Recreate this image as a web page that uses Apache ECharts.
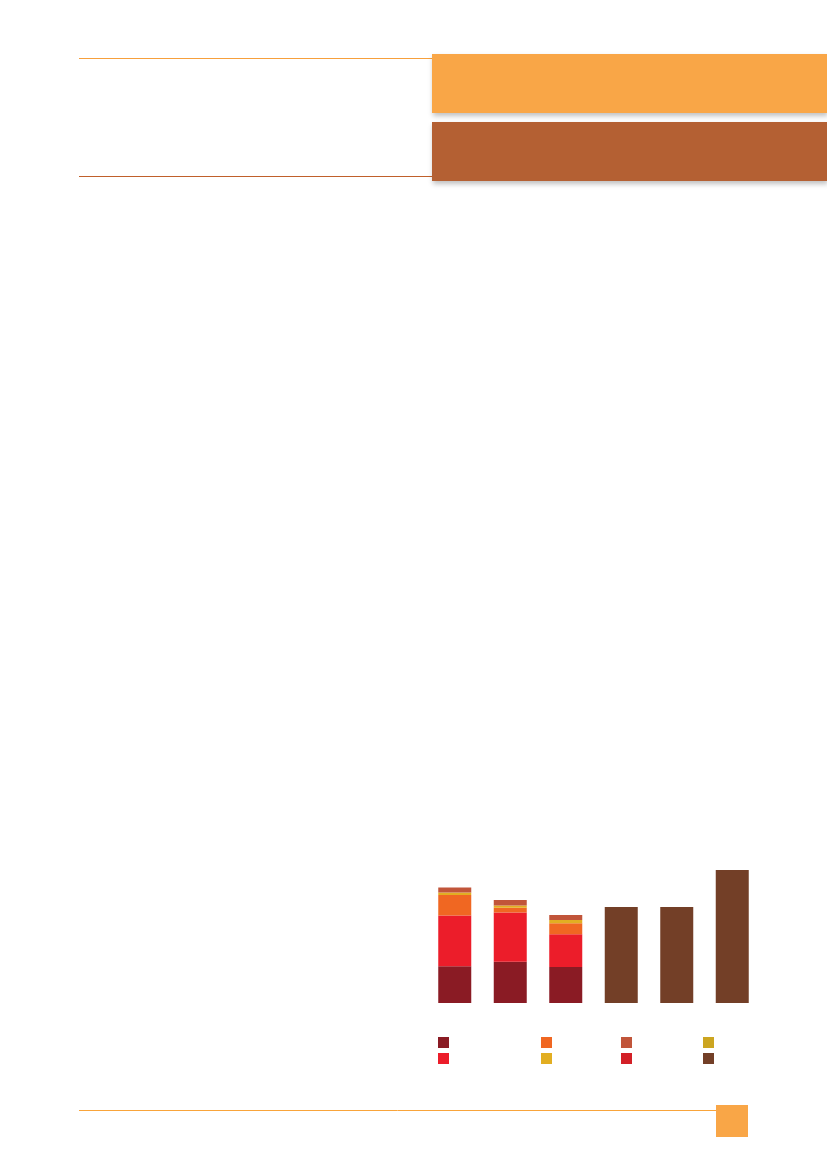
<!DOCTYPE html>
<html>
<head>
<meta charset="utf-8">
<script src="https://cdn.jsdelivr.net/npm/echarts@6/dist/echarts.min.js"></script>
<style>
    html, body { margin: 0; padding: 0; background: #fff; }
    #main { width: 827px; height: 1169px; }
</style>
</head>
<body>
<div id="main"></div>
<script>
// 数据
var categories = ['1', '2', '3', '4', '5', '6'];
var seriesNames = ['S1', 'S2', 'S3', 'S4', 'S5', 'S6', 'S7', 'S8'];
var seriesColors = ['#8a1b24', '#ec1d2a', '#f06722', '#e2ae22', '#c1553a', '#d32027', '#cca520', '#733f27'];
var s1 = [36.7, 41.3, 36, null, null, null];
var s2 = [50.7, 49.3, 32.7, null, null, null];
var s3 = [20.7, 4.7, 11, null, null, null];
var s4 = [2.3, 2.3, 3.3, null, null, null];
var s5 = [5, 5.3, 5, null, null, null];
var s6 = [null, null, null, null, null, null];
var s7 = [null, null, null, null, null, null];
var s8 = [null, null, null, 96, 96, 133];
var seriesData = [s1, s2, s3, s4, s5, s6, s7, s8];

var chart = echarts.init(document.getElementById('main'));

var series = [];
for (var i = 0; i < seriesNames.length; i++) {
    series.push({
        name: seriesNames[i],
        type: 'bar',
        stack: 'total',
        barWidth: 33,
        itemStyle: { color: seriesColors[i] },
        data: seriesData[i]
    });
}

// 图例：四列，每列两项
function makeLegend(left, names) {
    return {
        left: left,
        top: 1037,
        orient: 'vertical',
        padding: 0,
        itemWidth: 11,
        itemHeight: 11,
        itemGap: 5,
        icon: 'rect',
        selectedMode: false,
        formatter: function() { return ''; },
        data: names
    };
}

var shadow = { shadowBlur: 5, shadowOffsetY: 3, shadowOffsetX: 1, shadowColor: 'rgba(0,0,0,0.25)' };

chart.setOption({
    animation: false,
    backgroundColor: '#ffffff',
    legend: [
        makeLegend(438, ['S1', 'S2']),
        makeLegend(541, ['S3', 'S4']),
        makeLegend(621, ['S5', 'S6']),
        makeLegend(703, ['S7', 'S8'])
    ],
    grid: { left: 427, right: 67, top: 863, bottom: 166 },
    xAxis: {
        type: 'category',
        data: categories,
        axisLine: { show: false },
        axisTick: { show: false },
        axisLabel: { show: false }
    },
    yAxis: {
        type: 'value',
        min: 0,
        max: 140,
        show: false,
        splitLine: { show: false }
    },
    series: series,
    graphic: [
        { type: 'line', shape: { x1: 79, y1: 58.5, x2: 432, y2: 58.5 }, style: { stroke: '#f7a03c', lineWidth: 1 } },
        { type: 'line', shape: { x1: 79, y1: 176.5, x2: 432, y2: 176.5 }, style: { stroke: '#c0602b', lineWidth: 1 } },
        { type: 'rect', shape: { x: 432, y: 54, width: 395, height: 59 }, style: Object.assign({ fill: '#f9a647' }, shadow) },
        { type: 'rect', shape: { x: 432, y: 122, width: 395, height: 59 }, style: Object.assign({ fill: '#b46033' }, shadow) },
        { type: 'line', shape: { x1: 79, y1: 1110.5, x2: 716, y2: 1110.5 }, style: { stroke: '#f9a43a', lineWidth: 1 } },
        { type: 'rect', shape: { x: 716, y: 1105, width: 32, height: 32 }, style: { fill: '#f9a647' } }
    ]
});
</script>
</body>
</html>
